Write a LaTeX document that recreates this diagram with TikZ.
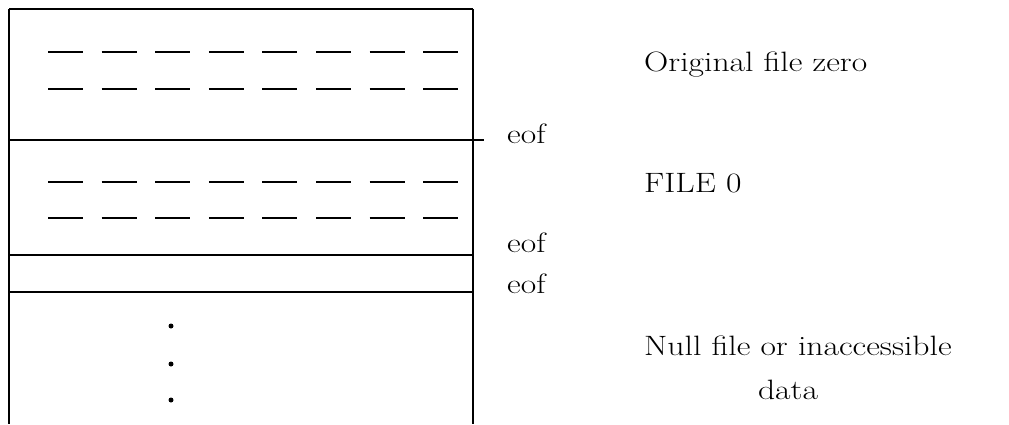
\documentclass[tikz,border=0pt]{standalone}
\usepackage{graphicx}
\tikzset{
  rule/.style={line width=1.5pt},
  side/.style={line width=1.1pt},
  dashrow/.style={line width=1.6pt, dash pattern=on 35pt off 18.6pt},
  lab/.style={inner sep=0pt, font=\fontsize{28}{32}\selectfont},
  dot/.style={circle, fill, inner sep=0pt, minimum size=5pt}
}
\newcommand{\widetxt}[1]{\scalebox{1.2}[1]{#1}}
\begin{document}
\begin{tikzpicture}[x=1pt,y=-1pt]
\useasboundingbox (0,0) rectangle (1009,424);
% box
\coordinate (tl) at (9,9);
\coordinate (tr) at (473,9);
\coordinate (bl) at (9,424);
\coordinate (br) at (473,424);
\draw[side] (tl) -- (bl);
\draw[side] (tr) -- (br);
\draw[rule] (tl) -- (tr);
\coordinate (e1l) at (9,140);  \coordinate (e1r) at (484,140);
\coordinate (e2l) at (9,255);  \coordinate (e2r) at (473,255);
\coordinate (e3l) at (9,292);  \coordinate (e3r) at (473,292);
\draw[rule] (e1l) -- (e1r);
\draw[rule] (e2l) -- (e2r);
\draw[rule] (e3l) -- (e3r);
% dash rows
\foreach \y in {52,89,182,218}{
  \draw[dashrow] (48,\y) -- (460,\y);
}
% dots
\node[dot] (d1) at (171,326) {};
\node[dot] (d2) at (171,364) {};
\node[dot] (d3) at (171,400) {};
% labels
\node[lab, anchor=base west] (orig) at (644,71) {\widetxt{Original file zero}};
\node[lab, anchor=base west] (eofa) at (507,143) {\widetxt{eof}};
\node[lab, anchor=base west] (file0) at (644,192) {\widetxt{FILE 0}};
\node[lab, anchor=base west] (eofb) at (507,252) {\widetxt{eof}};
\node[lab, anchor=base west] (eofc) at (507,293) {\widetxt{eof}};
\node[lab, anchor=base west] (null) at (644,355) {\widetxt{Null file or inaccessible}};
\node[lab, anchor=base] (data) at (788,399) {\widetxt{data}};
\end{tikzpicture}
\end{document}
